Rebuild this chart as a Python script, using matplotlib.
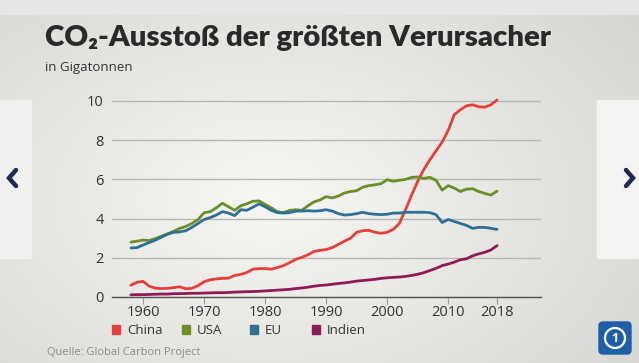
import numpy as np
import matplotlib
matplotlib.use("Agg")
import matplotlib.pyplot as plt
from matplotlib.patches import Rectangle, FancyBboxPatch, Circle
from matplotlib.lines import Line2D

years = list(range(1958, 2019))

china = [0.60, 0.75, 0.80, 0.55, 0.45, 0.43, 0.44, 0.48, 0.52, 0.42,
         0.44, 0.58, 0.78, 0.88, 0.92, 0.95, 0.96, 1.10, 1.15, 1.25,
         1.42, 1.45, 1.45, 1.42, 1.50, 1.60, 1.75, 1.92, 2.02, 2.15,
         2.32, 2.38, 2.42, 2.52, 2.68, 2.85, 3.00, 3.30, 3.38, 3.40,
         3.30, 3.25, 3.30, 3.45, 3.75, 4.45, 5.20, 5.90, 6.50, 7.00,
         7.45, 7.90, 8.50, 9.30, 9.55, 9.75, 9.80, 9.70, 9.68, 9.80,
         10.05]
usa = [2.80, 2.85, 2.90, 2.88, 2.98, 3.10, 3.22, 3.35, 3.50, 3.60,
       3.75, 3.95, 4.30, 4.35, 4.55, 4.78, 4.60, 4.42, 4.65, 4.75,
       4.88, 4.90, 4.72, 4.55, 4.35, 4.30, 4.42, 4.45, 4.42, 4.65,
       4.85, 4.95, 5.12, 5.05, 5.15, 5.30, 5.38, 5.42, 5.60, 5.68,
       5.72, 5.78, 5.98, 5.90, 5.95, 6.00, 6.10, 6.12, 6.05, 6.10,
       5.95, 5.45, 5.68, 5.55, 5.38, 5.50, 5.52, 5.38, 5.28, 5.20,
       5.40]
eu = [2.50, 2.52, 2.65, 2.78, 2.90, 3.05, 3.20, 3.30, 3.32, 3.38,
      3.55, 3.75, 3.95, 4.05, 4.18, 4.35, 4.28, 4.15, 4.45, 4.42,
      4.58, 4.75, 4.60, 4.42, 4.30, 4.28, 4.30, 4.38, 4.38, 4.40,
      4.38, 4.40, 4.45, 4.38, 4.25, 4.18, 4.20, 4.25, 4.32, 4.25,
      4.22, 4.20, 4.22, 4.28, 4.28, 4.32, 4.32, 4.32, 4.32, 4.30,
      4.20, 3.80, 3.95, 3.85, 3.75, 3.65, 3.50, 3.55, 3.55, 3.50,
      3.45]
indien = [0.11, 0.12, 0.12, 0.13, 0.14, 0.15, 0.15, 0.17, 0.17, 0.18,
          0.19, 0.19, 0.20, 0.21, 0.22, 0.22, 0.23, 0.25, 0.26, 0.27,
          0.28, 0.29, 0.31, 0.33, 0.35, 0.37, 0.39, 0.43, 0.46, 0.50,
          0.55, 0.59, 0.61, 0.65, 0.69, 0.72, 0.76, 0.81, 0.84, 0.87,
          0.90, 0.95, 0.98, 1.00, 1.02, 1.05, 1.10, 1.16, 1.24, 1.35,
          1.46, 1.60, 1.68, 1.78, 1.90, 1.95, 2.10, 2.20, 2.28, 2.40,
          2.62]

names = ["China", "USA", "EU", "Indien"]
colors = ["#e53f3a", "#6a8f26", "#2f6f96", "#8e1b55"]
xticks = [1960, 1970, 1980, 1990, 2000, 2010, 2018]
yticks = [0, 2, 4, 6, 8, 10]

plt.rcParams['font.family'] = ['Open Sans', 'DejaVu Sans']

W, H = 639, 363
fig = plt.figure(figsize=(W / 100, H / 100), dpi=100)

# background with soft gradient
bg = fig.add_axes([0, 0, 1, 1], zorder=-10)
xx, yy = np.meshgrid(np.linspace(0, 1, 320), np.linspace(0, 1, 180))
d = np.sqrt(((xx - 0.42) / 0.7) ** 2 + ((yy - 0.55) / 0.8) ** 2)
v = np.clip(0.965 - 0.12 * d, 0, 1)
img = np.dstack([v, v, v * 0.985])
bg.imshow(img, extent=[0, W, H, 0], aspect='auto')
bg.add_patch(Rectangle((0, 0), W, 14, color="#e6e6e8"))
bg.add_patch(Rectangle((0, 100), 31, 158, color="#f0f0ee"))
bg.add_patch(Rectangle((597, 100), 42, 158, color="#f3f3f1"))
bg.add_line(Line2D([16, 9, 16], [170, 178, 186], color="#1d2b54", lw=3.2,
                   solid_capstyle='round', solid_joinstyle='miter'))
bg.add_line(Line2D([626, 633, 626], [170, 178, 186], color="#1d2b54", lw=3.2,
                   solid_capstyle='round', solid_joinstyle='miter'))
# logo
bg.add_patch(FancyBboxPatch((599, 322), 32, 32, boxstyle="round,pad=0,rounding_size=4",
                            color="#1f5fa8"))
bg.add_patch(Circle((615, 338), 10, fill=False, ec="white", lw=1.6))
bg.text(615, 338.5, "1", color="white", fontsize=9, fontweight='bold',
        ha='center', va='center')
bg.set_xlim(0, W)
bg.set_ylim(H, 0)
bg.axis('off')

ax = fig.add_axes([112 / W, 1 - 297 / H, (541 - 112) / W, (297 - 95) / H])
ax.patch.set_alpha(0)
series = [china, usa, eu, indien]
for s, c in zip(series, colors):
    ax.plot(years, s, color=c, lw=2.0, solid_capstyle='round')

ax.set_xlim(1954.9, 2025.2)
ax.set_ylim(0, 10.3)
ax.set_xticks(xticks)
ax.set_yticks(yticks)
ax.grid(axis='y', color="#b8b8b8", lw=1.0)
ax.set_axisbelow(True)
for sp in ['top', 'right', 'left']:
    ax.spines[sp].set_visible(False)
ax.spines['bottom'].set_color("#555555")
ax.spines['bottom'].set_linewidth(1.0)
ax.tick_params(axis='x', length=5, color="#999999", labelsize=10.5,
               labelcolor="#333333", pad=1)
ax.tick_params(axis='y', length=0, labelsize=10.5, labelcolor="#333333", pad=6)

# legend
lx = [112, 182, 250, 312]
for x0, n, c in zip(lx, names, colors):
    bg.add_patch(Rectangle((x0, 325), 8, 9, color=c))
    bg.text(x0 + 15, 330, n, fontsize=9.5, color="#333333", va='center', ha='left')

fig.text(45 / W, 1 - 38 / H, "CO₂-Ausstoß der größten Verursacher",
         fontsize=21.2, fontweight='heavy', color="#2a2a2a", va='center',
         family=['Lato', 'DejaVu Sans'])
fig.text(45 / W, 1 - 68 / H, "in Gigatonnen", fontsize=9.5, color="#333333",
         va='center')
fig.text(47 / W, 1 - 352 / H, "Quelle: Global Carbon Project", fontsize=8,
         color="#8a8a8a", va='center')

fig.savefig("out.png", dpi=100)
